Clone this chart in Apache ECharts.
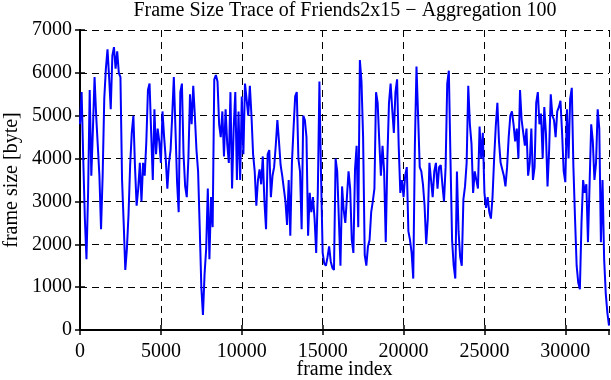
<!DOCTYPE html>
<html><head><meta charset="utf-8">
<script src="https://cdn.jsdelivr.net/npm/echarts@6/dist/echarts.min.js"></script>
<style>html,body{margin:0;padding:0;background:#fff}#c{width:611px;height:380px}</style>
</head><body><div id="c"></div>
<script>
const titleText = 'Frame Size Trace of Friends2x15 \u2212 Aggregation 100';
const xName = 'frame index';
const yName = 'frame size [byte]';
const aggregation = 100;
const xMax = 32700;
const yMax = 7000;
const xInterval = 5000;
const yInterval = 1000;
const frameSizes = [
4800,5550,4000,2600,1650,3200,5600,3600,4700,5900,
5000,4300,3600,2350,3600,5400,6100,6550,5900,5150,
6400,6600,6100,6500,6000,5900,3500,2500,1400,1900,
2700,3850,4600,5000,3800,2900,3300,3900,3000,3900,
3600,4400,5600,5750,4600,3500,5150,4100,4700,4400,
3900,5100,4500,4000,3300,3900,
4200,5000,5900,4700,3450,2750,5550,5750,4100,3350,
3100,4000,5500,4800,5700,5000,4200,3700,2400,1000,
350,1300,1900,3300,1650,3100,2400,5850,5950,5800,
4800,4500,5100,4050,5150,4350,3900,5550,3300,4700,
5550,3500,5100,3500,5450,4100,5750,5750,5000,5700,
5000,4100,3700,2900,
3500,3750,3400,4050,3000,2350,4100,4200,3100,3600,
3800,4300,4900,4400,3850,3600,3300,3000,2450,3500,
2200,3900,4700,5450,5550,4000,3700,2350,5000,4900,
4500,2200,3200,2750,3100,2600,1800,3200,5800,3600,
1800,1550,1500,1700,1950,1600,1450,1400,4000,3700,
2600,1500,3350,2800,
2500,3100,3700,3300,2100,1800,3750,4300,2400,6300,
5800,4500,1750,1500,1950,2100,2750,3000,3300,5550,
5300,4400,3600,4300,3700,2050,4000,5300,5750,5150,
4600,5550,5850,4300,3200,3500,3100,3600,3800,2300,
2100,1800,1200,4300,6150,5000,3800,3700,3400,2900,
2000,2600,3900,3500,
3100,3700,3900,3300,3800,3850,3400,3000,3800,5750,
6050,4000,2100,1500,1200,3700,2300,1700,1500,3050,
3350,3900,5700,4800,4350,3200,3700,3500,3300,4750,
4000,4600,3200,2850,3100,2750,2600,3100,4000,4750,
5300,4400,3900,3750,3600,3350,3800,4500,5000,5100,
4800,4400,4700,4000,
5600,4900,4600,4300,4700,3600,3900,4700,3500,3800,
5300,5550,4800,5050,4000,5200,4600,3350,4200,5500,
5000,4900,4500,5100,5200,5350,4600,3700,3450,5150,
4000,5400,5650,3800,2600,1500,1100,950,2500,3500,
3200,3400,2050,3400,4800,4400,3500,3900,5150,4700,
2050,3500,1650,850,400,100
];

const FONT = "'Liberation Serif','Times New Roman',serif";
const FS = 20;
const chart = echarts.init(document.getElementById('c'), null, {renderer: 'canvas'});
const seriesData = frameSizes.map((v, i) => [i * aggregation, v]);
const lineBlack = {color: '#000', width: 2};
const tickStyle = {inside: true, length: 5, lineStyle: {color: '#000', width: 1.5}};
const gridLine = {show: true, lineStyle: {color: '#000', width: 1, type: [7, 5]}};
const plain = v => String(v);
chart.setOption({
  animation: false,
  backgroundColor: '#fff',
  grid: {left: 80, right: 2, top: 30, bottom: 50, containLabel: false, outerBoundsMode: 'none'},
  graphic: [{
    type: 'text', x: 345, y: 11,
    style: {text: titleText, font: FS + 'px ' + FONT, fill: '#000', textAlign: 'center', textVerticalAlign: 'middle'}
  }],
  xAxis: [{
    type: 'value', min: 0, max: xMax, interval: xInterval, position: 'bottom',
    axisLine: {show: true, lineStyle: lineBlack},
    axisTick: tickStyle,
    axisLabel: {color: '#000', fontFamily: FONT, fontSize: FS, margin: 12, showMaxLabel: false, formatter: plain},
    splitLine: gridLine,
    name: xName, nameLocation: 'middle', nameGap: 30, nameMoveOverlap: false,
    nameTextStyle: {color: '#000', fontFamily: FONT, fontSize: FS, verticalAlign: 'top'}
  }, {
    type: 'value', min: 0, max: xMax, interval: xInterval, position: 'top',
    axisLine: {show: true, lineStyle: lineBlack},
    axisTick: tickStyle, axisLabel: {show: false}, splitLine: {show: false}
  }],
  yAxis: [{
    type: 'value', min: 0, max: yMax, interval: yInterval, position: 'left',
    axisLine: {show: true, lineStyle: lineBlack},
    axisTick: tickStyle,
    axisLabel: {color: '#000', fontFamily: FONT, fontSize: FS, margin: 8, formatter: plain},
    splitLine: gridLine,
    name: yName, nameLocation: 'middle', nameGap: 58, nameRotate: 90, nameMoveOverlap: false,
    nameTextStyle: {color: '#000', fontFamily: FONT, fontSize: FS}
  }, {
    type: 'value', min: 0, max: yMax, interval: yInterval, position: 'right',
    axisLine: {show: true, lineStyle: lineBlack},
    axisTick: tickStyle, axisLabel: {show: false}, splitLine: {show: false}
  }],
  series: [{
    type: 'line', xAxisIndex: 0, yAxisIndex: 0, data: seriesData,
    showSymbol: false, symbol: 'none',
    lineStyle: {color: '#0000ff', width: 2}
  }]
});
</script></body></html>
